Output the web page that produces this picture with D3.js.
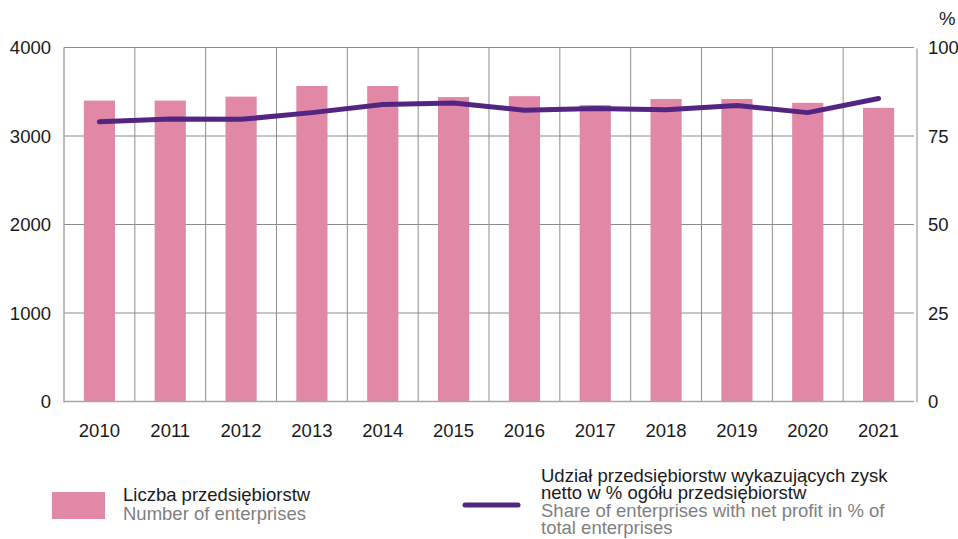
<!DOCTYPE html>
<html>
<head>
<meta charset="utf-8">
<script src="https://cdn.jsdelivr.net/npm/d3@7"></script>
<style>
html,body{margin:0;padding:0;background:#fff;}
svg{display:block;font-family:"Liberation Sans",Arial,sans-serif;}
</style>
</head>
<body>
<svg id="chart" width="958" height="539"></svg>
<script>
const years = ["2010","2011","2012","2013","2014","2015","2016","2017","2018","2019","2020","2021"];
const enterprises = [3400, 3400, 3445, 3565, 3565, 3440, 3450, 3350, 3418, 3418, 3375, 3318];
const profitShare = [79.0, 79.8, 79.7, 81.6, 83.9, 84.3, 82.3, 82.8, 82.4, 83.6, 81.6, 85.6];
const leftTicks = [0, 1000, 2000, 3000, 4000];
const rightTicks = [0, 25, 50, 75, 100];
const legendBarLabels = ["Liczba przedsiębiorstw", "Number of enterprises"];
const legendLineLabels = ["Udział przedsiębiorstw wykazujących zysk", "netto w % ogółu przedsiębiorstw", "Share of enterprises with net profit in % of", "total enterprises"];

const svg = d3.select("#chart");
const L = 64, R = 914, T = 47.5, B = 401.5;
const barColor = "#e288a7", lineColor = "#522583", gridColor = "#8c8c8c";
const FS = 18.5;

const x = d3.scaleBand().domain(years).range([L, R]).paddingInner(0).paddingOuter(0);
const yL = d3.scaleLinear().domain([0, 4000]).range([B, T]);
const yR = d3.scaleLinear().domain([0, 100]).range([B, T]);

// horizontal grid
svg.append("g").selectAll("line").data(leftTicks.filter(d => d > 0)).join("line")
  .attr("x1", L).attr("x2", R).attr("y1", d => yL(d)).attr("y2", d => yL(d))
  .attr("stroke", gridColor).attr("stroke-width", 1);
// vertical grid
svg.append("g").selectAll("line").data(years.slice(1)).join("line")
  .attr("x1", d => x(d)).attr("x2", d => x(d)).attr("y1", T).attr("y2", B)
  .attr("stroke", gridColor).attr("stroke-width", 1);

// bars
const bw = x.bandwidth() * 0.44;
svg.append("g").selectAll("rect").data(years).join("rect")
  .attr("x", (d) => x(d) + x.bandwidth()/2 - bw/2)
  .attr("width", bw)
  .attr("y", (d, i) => yL(enterprises[i]))
  .attr("height", (d, i) => B - yL(enterprises[i]))
  .attr("fill", barColor);

// axis lines
svg.append("line").attr("x1", L).attr("x2", L).attr("y1", T).attr("y2", B + 1)
  .attr("stroke", "#a6a6a6").attr("stroke-width", 1.5);
svg.append("line").attr("x1", L).attr("x2", R).attr("y1", B).attr("y2", B)
  .attr("stroke", "#a6a6a6").attr("stroke-width", 1.5);
svg.append("line").attr("x1", R + 3).attr("x2", R + 3).attr("y1", T + 1).attr("y2", B + 1)
  .attr("stroke", "#b0b0b0").attr("stroke-width", 1.5);

// line
const line = d3.line().x((d, i) => x(years[i]) + x.bandwidth()/2).y(d => yR(d));
svg.append("path").datum(profitShare).attr("d", line)
  .attr("fill", "none").attr("stroke", lineColor).attr("stroke-width", 5).attr("stroke-linecap", "round").attr("stroke-linejoin", "round");

// left axis labels
svg.append("g").selectAll("text").data(leftTicks).join("text")
  .attr("x", 51).attr("y", d => yL(d) + 6.5)
  .attr("text-anchor", "end").attr("font-size", FS).attr("fill", "#1a1a1a").text(d => d);
// right axis labels
svg.append("g").selectAll("text").data(rightTicks).join("text")
  .attr("x", 928).attr("y", d => yR(d) + 6.5)
  .attr("text-anchor", "start").attr("font-size", FS).attr("fill", "#1a1a1a").text(d => d);
svg.append("text").attr("x", 939).attr("y", 25).attr("font-size", FS).attr("fill", "#1a1a1a").text("%");

// x labels
svg.append("g").selectAll("text").data(years).join("text")
  .attr("x", d => x(d) + x.bandwidth()/2).attr("y", 437)
  .attr("text-anchor", "middle").attr("font-size", FS).attr("fill", "#1a1a1a").text(d => d);

// legend
svg.append("rect").attr("x", 52).attr("y", 492).attr("width", 53).attr("height", 27).attr("fill", barColor);
svg.append("g").selectAll("text").data(legendBarLabels).join("text")
  .attr("x", 123).attr("y", (d, i) => 501 + i * 18.5)
  .attr("font-size", FS).attr("fill", (d, i) => i === 0 ? "#1a1a1a" : "#808080").text(d => d);

svg.append("line").attr("x1", 465).attr("x2", 518).attr("y1", 505).attr("y2", 505)
  .attr("stroke", lineColor).attr("stroke-width", 5).attr("stroke-linecap", "round");
svg.append("g").selectAll("text").data(legendLineLabels).join("text")
  .attr("x", 541).attr("y", (d, i) => 482 + i * 17.3)
  .attr("font-size", FS).attr("fill", (d, i) => i < 2 ? "#1a1a1a" : "#808080").text(d => d);
</script>
</body>
</html>
